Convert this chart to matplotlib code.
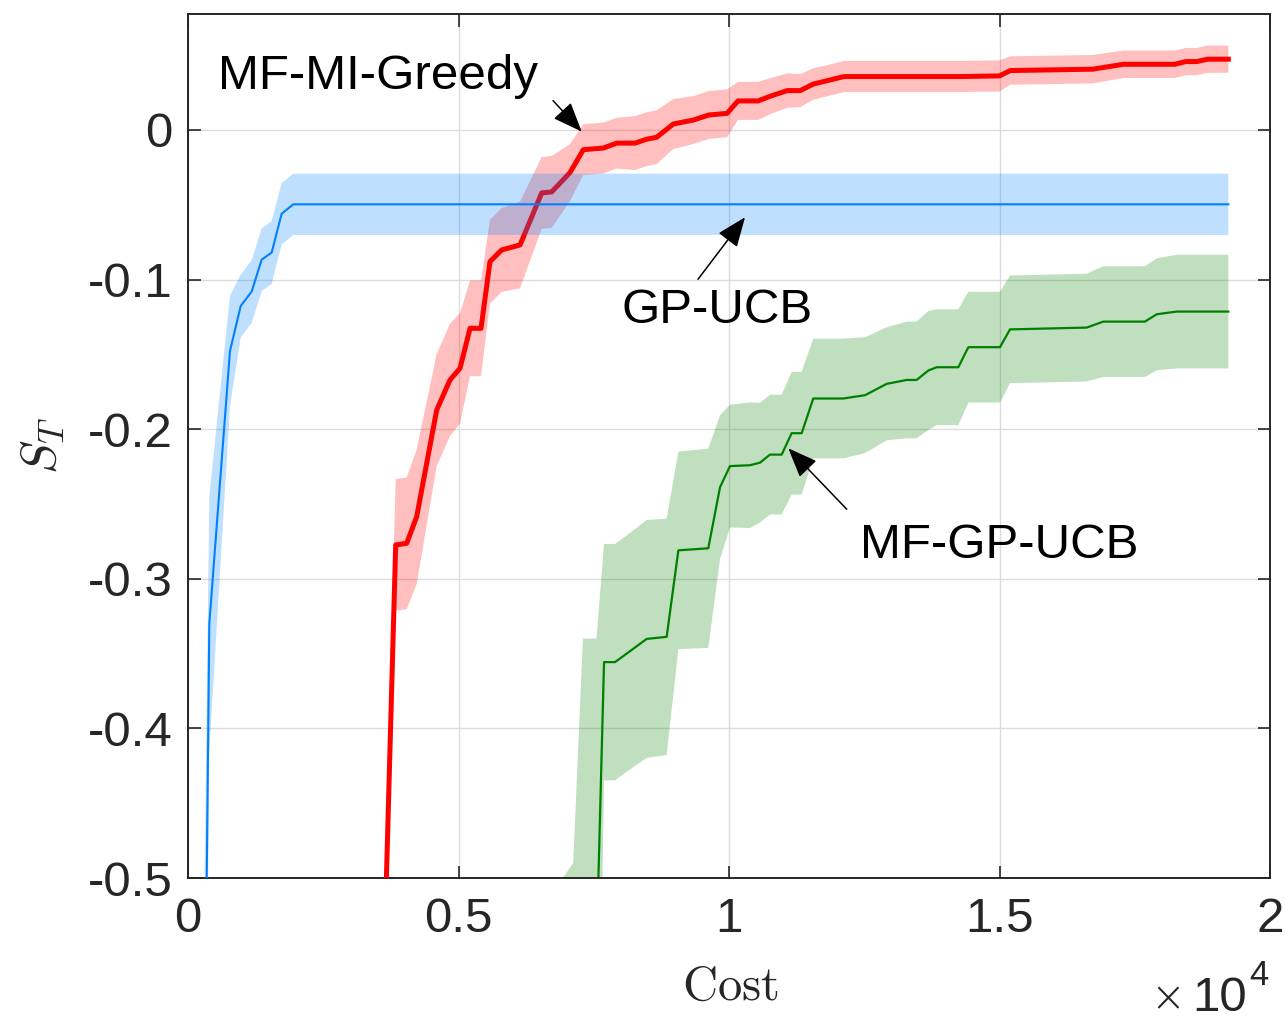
import matplotlib
matplotlib.use("Agg")
import matplotlib.pyplot as plt
import numpy as np

# ---- data: cumulative cost vs. S_T (mean and standard deviation) ----
gp_cost = [290, 394, 776, 974, 1177, 1362, 1547, 1731, 1947, 19230]
gp_mean = [-0.70, -0.33, -0.1477, -0.1177, -0.108, -0.0867, -0.0819, -0.056, -0.0497, -0.0497]
gp_std = [0.15, 0.085, 0.037, 0.021, 0.021, 0.021, 0.021, 0.0205, 0.0205, 0.0205]

mi_cost = [3590, 3839, 4042, 4227, 4597, 4843, 5028, 5213, 5416, 5582, 5798, 6137, 6538,
           6723, 7061, 7307, 7677, 7924, 8262, 8478, 8663, 8971, 9340, 9627, 9965, 10166,
           10538, 10774, 11079, 11316, 11553, 11823, 12127, 14290, 14998, 15200, 16719,
           17294, 18240, 18444, 18645, 18848, 19230]
mi_mean = [-0.60, -0.2774, -0.2763, -0.2585, -0.1872, -0.1671, -0.1593, -0.1326, -0.1326,
           -0.088, -0.0802, -0.0769, -0.0421, -0.0414, -0.0285, -0.0132, -0.0121, -0.0088,
           -0.0088, -0.0062, -0.0049, 0.004, 0.0066, 0.010, 0.0111, 0.0194, 0.0194, 0.0227,
           0.0263, 0.0263, 0.0306, 0.033, 0.0357, 0.0357, 0.0361, 0.0397, 0.0406, 0.0439,
           0.0439, 0.0457, 0.0457, 0.0473, 0.0473]
mi_std = [0.045, 0.044, 0.044, 0.045, 0.0375, 0.0375, 0.037, 0.032, 0.032, 0.028, 0.028,
          0.029, 0.024, 0.024, 0.019, 0.017, 0.017, 0.017, 0.018, 0.018, 0.018, 0.0167,
          0.016, 0.016, 0.016, 0.0127, 0.0127, 0.012, 0.0115, 0.011, 0.0105, 0.0104,
          0.0104, 0.0104, 0.0104, 0.0095, 0.0095, 0.0092, 0.0092, 0.0091, 0.0091, 0.0091,
          0.0091]

mfgp_cost = [6930, 7120, 7300, 7550, 7690, 7893, 8109, 8478, 8848, 9064, 9617, 9834, 10018,
             10388, 10573, 10758, 10974, 11158, 11343, 11558, 12113, 12514, 12915, 13285,
             13469, 13684, 13839, 14239, 14424, 15009, 15194, 16612, 16919, 17689, 17906,
             18275, 19230]
mfgp_mean = [-1.0, -0.99, -0.95, -0.55, -0.3557, -0.3557, -0.350, -0.3402, -0.3388, -0.281,
             -0.2796, -0.2388, -0.2247, -0.2241, -0.2224, -0.217, -0.217, -0.2027, -0.2027,
             -0.1795, -0.1795, -0.1773, -0.1697, -0.1671, -0.1671, -0.1608, -0.1586,
             -0.1586, -0.1452, -0.1452, -0.1333, -0.1321, -0.1281, -0.1281, -0.1232,
             -0.1214, -0.1214]
mfgp_std = [0.5, 0.5, 0.61, 0.21, 0.079, 0.079, 0.079, 0.0795, 0.079, 0.066, 0.0666, 0.048,
            0.041, 0.042, 0.040, 0.040, 0.040, 0.041, 0.041, 0.040, 0.040, 0.0387, 0.0378,
            0.039, 0.039, 0.0398, 0.0387, 0.0387, 0.037, 0.037, 0.036, 0.036, 0.037, 0.037,
            0.0374, 0.038, 0.038]

x_ticks = [0, 5000, 10000, 15000, 20000]
x_tick_labels = ['0', '0.5', '1', '1.5', '2']
y_ticks = [-0.5, -0.4, -0.3, -0.2, -0.1, 0.0]
y_tick_labels = ['-0.5', '-0.4', '-0.3', '-0.2', '-0.1', '0']

SANS = 'Liberation Sans'
FS = 35.5
plt.rcParams['mathtext.fontset'] = 'cm'

W, H = 1286, 1023
fig = plt.figure(figsize=(W / 100, H / 100), dpi=100)
fig.patch.set_facecolor('white')
ax = fig.add_axes([188 / W, 1 - 878 / H, (1270 - 188) / W, (878 - 14) / H])


def band(ax, cost, mean, std, color, lw, z):
    c = np.asarray(cost, float)
    m = np.asarray(mean, float)
    s = np.asarray(std, float)
    ax.fill_between(c, m - s, m + s, color=color, alpha=0.25, lw=0, zorder=z)
    ax.plot(c, m, color=color, lw=lw, zorder=z + 0.5, solid_joinstyle='round')


band(ax, mfgp_cost, mfgp_mean, mfgp_std, (0, 0.5, 0), 1.6, 2)
band(ax, mi_cost, mi_mean, mi_std, (1, 0, 0), 3.6, 3)
band(ax, gp_cost, gp_mean, gp_std, (0, 0.5, 1), 1.5, 4)

ax.set_xlim(0, 20000)
ax.set_ylim(-0.5, 0.0775)
ax.set_xticks(x_ticks)
ax.set_xticklabels(x_tick_labels, fontfamily=SANS)
ax.set_yticks(y_ticks)
ax.set_yticklabels(y_tick_labels, fontfamily=SANS)
ax.tick_params(axis='both', direction='in', length=9, width=1.2, top=True, right=True,
               labelsize=FS, colors='#262626')
ax.tick_params(axis='x', pad=14)
ax.tick_params(axis='y', pad=11)
ax.set_axisbelow(True)
ax.grid(True, color='#dcdcdc', lw=1.0)
for sp in ax.spines.values():
    sp.set_color('#262626')
    sp.set_linewidth(1.4)

# axis labels
fig.text(730 / W, 1 - 1000 / H, r'$\mathrm{Cost}$', ha='center', va='baseline',
         fontsize=35, color='#262626')
fig.text(42 / W, 1 - 445 / H, r'$S_T$', ha='center', va='center', rotation=90,
         fontsize=36, color='#262626')

# scale factor of the x axis
fig.text(1185 / W, 1 - 1011 / H, '\u00d7', ha='right', va='baseline',
         fontsize=30, fontfamily='DejaVu Sans', fontweight='light', color='#262626')
fig.text(1247 / W, 1 - 1011 / H, '10', ha='right', va='baseline',
         fontsize=FS, fontfamily=SANS, color='#262626')
fig.text(1249 / W, 1 - 985 / H, '4', ha='left', va='baseline',
         fontsize=25, fontfamily=SANS, color='#262626')

# method labels with arrows
arrow = dict(arrowstyle='-|>,head_length=0.8,head_width=0.32', mutation_scale=23,
             color='black', lw=1.1, shrinkA=0, shrinkB=0)
ax.text(555, 0.0272, 'MF-MI-Greedy', fontsize=FS, fontfamily=SANS, ha='left',
        va='baseline', zorder=10)
ax.annotate('', xy=(7277, -0.0011), xytext=(6747, 0.0196), arrowprops=arrow, zorder=10)

ax.text(9775, -0.1291, 'GP-UCB', fontsize=FS, fontfamily=SANS, ha='center',
        va='baseline', zorder=10)
ax.annotate('', xy=(10296, -0.0584), xytext=(9427, -0.0998), arrowprops=arrow, zorder=10)

ax.text(12421, -0.2863, 'MF-GP-UCB', fontsize=FS, fontfamily=SANS, ha='left',
        va='baseline', zorder=10)
ax.annotate('', xy=(11096, -0.2128), xytext=(12176, -0.2535), arrowprops=arrow, zorder=10)

fig.savefig('out.png', dpi=100, facecolor='white')
